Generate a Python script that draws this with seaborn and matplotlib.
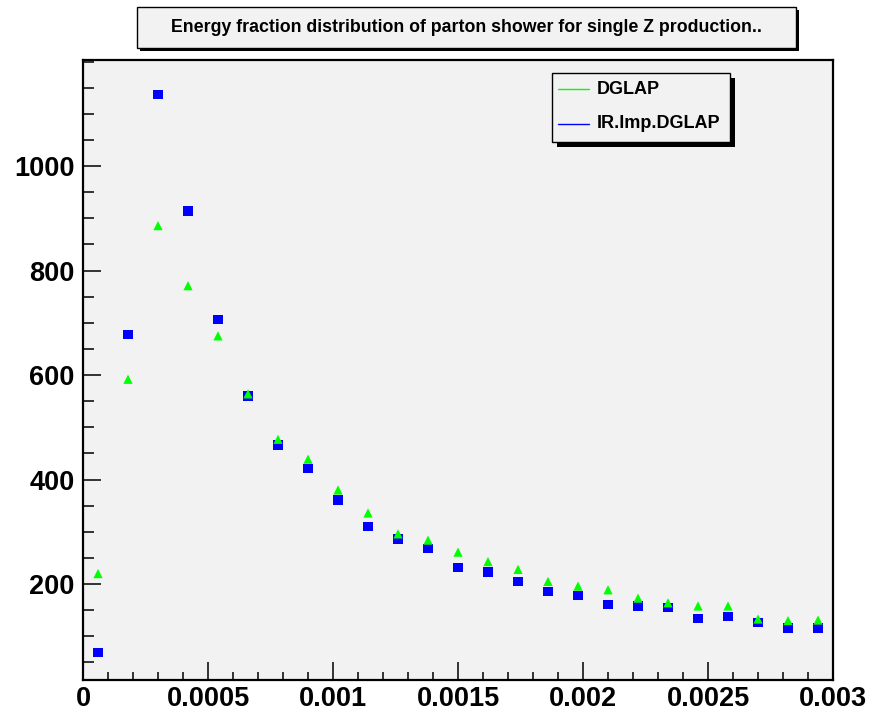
import numpy as np
import pandas as pd
import matplotlib
matplotlib.use("Agg")
import matplotlib.pyplot as plt
import seaborn as sns
from matplotlib.patches import Rectangle
from matplotlib.lines import Line2D
from matplotlib.ticker import MultipleLocator, FixedLocator, FixedFormatter

# bin centres (25 bins of width 0.00012)
x_centers = [0.00006 + 0.00012 * i for i in range(25)]

dglap = [220, 592, 886, 771, 675, 564, 477, 439, 380, 336, 296, 284, 261,
         243, 228, 205, 196, 189, 173, 164, 158, 158, 133, 130, 131]
ir_imp_dglap = [69, 677, 1137, 914, 707, 560, 466, 421, 361, 310, 286, 268, 231,
                223, 205, 186, 178, 161, 158, 155, 134, 138, 127, 116, 116]

series_names = ["IR.Imp.DGLAP", "DGLAP"]
x_ticks = [0, 0.0005, 0.001, 0.0015, 0.002, 0.0025, 0.003]
x_ticklabels = ["0", "0.0005", "0.001", "0.0015", "0.002", "0.0025", "0.003"]
y_ticks = [200, 400, 600, 800, 1000]
y_ticklabels = ["200", "400", "600", "800", "1000"]
title = "Energy fraction distribution of parton shower for single Z production.."

colors = {"DGLAP": "#00ff00", "IR.Imp.DGLAP": "#0000ff"}
markers = {"DGLAP": "^", "IR.Imp.DGLAP": "s"}

# blue first so the green triangles sit on top
df = pd.concat([
    pd.DataFrame({"x": x_centers, "y": ir_imp_dglap, "set": "IR.Imp.DGLAP"}),
    pd.DataFrame({"x": x_centers, "y": dglap, "set": "DGLAP"}),
], ignore_index=True)

sns.set_theme(style="ticks")
plt.rcParams["font.family"] = ["Liberation Sans", "DejaVu Sans"]
plt.rcParams["text.color"] = "black"
plt.rcParams["xtick.color"] = "black"
plt.rcParams["ytick.color"] = "black"

W, H = 876, 715
fig = plt.figure(figsize=(W / 100, H / 100), dpi=100)
fig.patch.set_facecolor("white")
ax = fig.add_axes([83 / W, 35 / H, 750 / W, 620 / H])
ax.set_facecolor("#f2f2f2")

sns.scatterplot(data=df, x="x", y="y", hue="set", style="set",
                palette=colors, markers=markers, s=44, linewidth=0,
                legend=False, ax=ax)

ax.set_xlim(0, 0.003)
ax.set_ylim(16.3, 1203)
ax.set_xlabel("")
ax.set_ylabel("")

ax.xaxis.set_major_locator(FixedLocator(x_ticks))
ax.xaxis.set_major_formatter(FixedFormatter(x_ticklabels))
ax.xaxis.set_minor_locator(MultipleLocator(0.0001))
ax.yaxis.set_major_locator(FixedLocator(y_ticks))
ax.yaxis.set_major_formatter(FixedFormatter(y_ticklabels))
ax.yaxis.set_minor_locator(MultipleLocator(50))

ax.tick_params(axis="x", which="major", direction="in", length=13, width=1.1,
               pad=4, labelsize=19.5, colors="black")
ax.tick_params(axis="x", which="minor", direction="in", length=6, width=1.1,
               colors="black")
ax.tick_params(axis="y", which="major", direction="in", length=13, width=1.1,
               pad=6, labelsize=19.5, colors="black")
ax.tick_params(axis="y", which="minor", direction="in", length=8, width=1.1,
               colors="black")
for lab in ax.get_xticklabels() + ax.get_yticklabels():
    lab.set_fontweight("bold")
for sp in ax.spines.values():
    sp.set_visible(True)
    sp.set_color("black")
    sp.set_linewidth(1.6)


def px_rect(x0, y0, x1, y1, **kw):
    # rectangle given in image pixels (top-left origin), drawn in figure coords
    return Rectangle((x0 / W, 1 - y1 / H), (x1 - x0) / W, (y1 - y0) / H,
                     transform=fig.transFigure, **kw)


# title box with hard shadow
fig.patches.append(px_rect(140, 10, 799, 51, facecolor="black", edgecolor="none", zorder=5))
fig.patches.append(px_rect(137, 7, 796, 48, facecolor="#f2f2f2", edgecolor="black",
                           linewidth=1.0, zorder=6))
fig.text((171 + 762) / 2 / W, 1 - 27.5 / H, title, ha="center", va="center",
         fontsize=12.8, fontweight="bold", zorder=7)

# legend box with hard shadow
fig.patches.append(px_rect(557, 78, 735, 147, facecolor="black", edgecolor="none", zorder=5))
fig.patches.append(px_rect(552, 73, 730, 142, facecolor="#f2f2f2", edgecolor="black",
                           linewidth=1.0, zorder=6))
for name, ypx in [("DGLAP", 89), ("IR.Imp.DGLAP", 124)]:
    fig.lines.append(Line2D([558 / W, 589 / W], [1 - ypx / H, 1 - ypx / H],
                            transform=fig.transFigure, color=colors[name],
                            linewidth=1.0, zorder=7))
    fig.text(597 / W, 1 - ypx / H, name, ha="left", va="center",
             fontsize=13, fontweight="bold", zorder=7)

fig.savefig("out.png", dpi=100)
